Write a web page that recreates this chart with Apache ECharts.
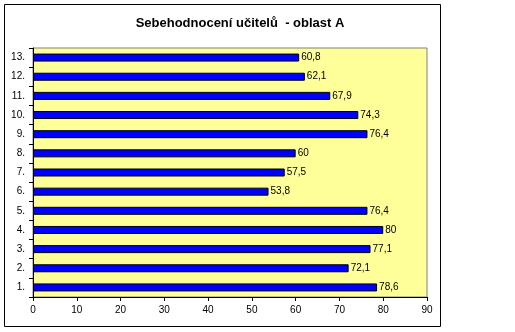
<!DOCTYPE html>
<html><head><meta charset="utf-8">
<script src="https://cdn.jsdelivr.net/npm/echarts@6/dist/echarts.min.js"></script>
<style>html,body{margin:0;padding:0;background:#fff}#c{width:515px;height:332px}</style>
</head><body><div id="c"></div>
<script>
const categories = ['1.','2.','3.','4.','5.','6.','7.','8.','9.','10.','11.','12.','13.'];
const values = [78.6, 72.1, 77.1, 80, 76.4, 53.8, 57.5, 60, 76.4, 74.3, 67.9, 62.1, 60.8];
const xTicks = [0, 10, 20, 30, 40, 50, 60, 70, 80, 90];
const title = 'Sebehodnocení učitelů  - oblast A';

const chart = echarts.init(document.getElementById('c'), null, {renderer:'canvas'});
chart.setOption({
  animation:false,
  backgroundColor:'#fff',
  graphic:[{type:'rect',shape:{x:4.5,y:4.5,width:436,height:322},style:{fill:'none',stroke:'#000',lineWidth:1},z:-1}],
  title:{text:title,left:235,top:12,textAlign:'center',textStyle:{fontFamily:'Arial',fontSize:13,fontWeight:'bold',color:'#000'}},
  grid:{left:33,right:88,top:48,bottom:35,show:true,backgroundColor:'#FFFF99',borderColor:'#808080',borderWidth:1},
  xAxis:{type:'value',min:xTicks[0],max:xTicks[xTicks.length-1],interval:10,
    axisLine:{show:true,lineStyle:{color:'#000'}},
    axisTick:{show:true,length:4,lineStyle:{color:'#000'}},
    splitLine:{show:false},
    axisLabel:{color:'#000',fontFamily:'Arial',fontSize:10,margin:8}},
  yAxis:{type:'category',data:categories,
    axisLine:{show:true,lineStyle:{color:'#000'}},
    axisTick:{show:true,length:4,lineStyle:{color:'#000'}},
    axisLabel:{color:'#000',fontFamily:'Arial',fontSize:10,margin:8}},
  series:[{type:'bar',data:values,barWidth:8,
    itemStyle:{color:'#0000FF',borderColor:'#000',borderWidth:1},
    label:{show:true,position:'right',distance:2,color:'#000',fontFamily:'Arial',fontSize:10,
      formatter:p=>String(p.value).replace('.',',')}}]
});
</script></body></html>
